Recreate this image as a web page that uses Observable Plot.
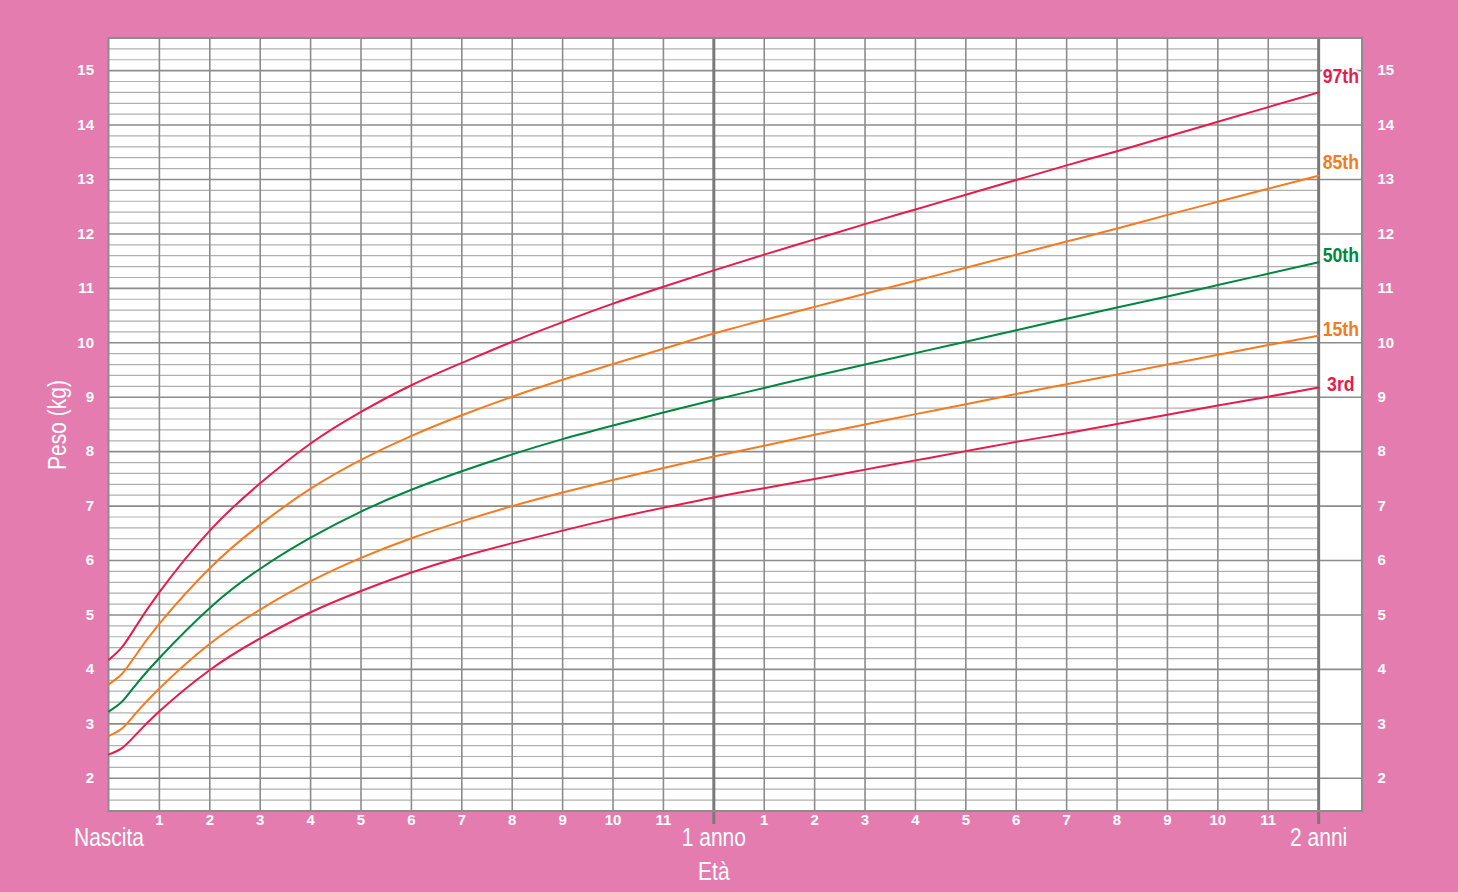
<!DOCTYPE html>
<html>
<head>
<meta charset="utf-8">
<script src="https://cdn.jsdelivr.net/npm/d3@7"></script>
<script src="https://cdn.jsdelivr.net/npm/@observablehq/plot@0.6"></script>
<style>
  html, body { margin: 0; padding: 0; background: #e47caf; }
  #chart { width: 1458px; height: 892px; overflow: hidden; }
</style>
</head>
<body>
<div id="chart"></div>
<script>
// Age in months
const ages = [0, 0.25, 0.5, 1, 2, 3, 4, 5, 6, 7, 8, 9, 10, 11, 12, 13, 14, 15, 16, 17, 18, 19, 20, 21, 22, 23, 24];
// Weight percentiles (kg)
const p3  = [2.44, 2.55, 2.77, 3.23, 3.99, 4.57, 5.05, 5.44, 5.78, 6.07, 6.32, 6.55, 6.77, 6.97, 7.16, 7.33, 7.50, 7.67, 7.84, 8.01, 8.18, 8.34, 8.51, 8.68, 8.85, 9.01, 9.18];
const p15 = [2.78, 2.91, 3.16, 3.65, 4.47, 5.10, 5.62, 6.05, 6.41, 6.72, 7.00, 7.25, 7.48, 7.70, 7.91, 8.11, 8.31, 8.50, 8.69, 8.87, 9.06, 9.24, 9.42, 9.60, 9.78, 9.96, 10.13];
const p50 = [3.23, 3.40, 3.68, 4.21, 5.13, 5.85, 6.42, 6.90, 7.30, 7.64, 7.95, 8.23, 8.48, 8.72, 8.95, 9.17, 9.39, 9.60, 9.81, 10.02, 10.23, 10.44, 10.65, 10.85, 11.06, 11.27, 11.48];
const p85 = [3.73, 3.91, 4.22, 4.84, 5.86, 6.66, 7.32, 7.85, 8.29, 8.67, 9.01, 9.32, 9.61, 9.89, 10.17, 10.42, 10.66, 10.90, 11.14, 11.38, 11.62, 11.86, 12.10, 12.35, 12.59, 12.83, 13.07];
const p97 = [4.18, 4.40, 4.74, 5.42, 6.55, 7.42, 8.15, 8.73, 9.22, 9.63, 10.02, 10.38, 10.72, 11.03, 11.33, 11.62, 11.90, 12.18, 12.45, 12.72, 12.99, 13.26, 13.52, 13.79, 14.06, 14.33, 14.60];

const seriesNames = ["3rd", "15th", "50th", "85th", "97th"];
const seriesValues = [p3, p15, p50, p85, p97];
const seriesColors = ["#e51c4c", "#f47b20", "#00873f", "#f47b20", "#e51c4c"];
const labelOffsets = [-3, -6, -7, -13, -16];

const monthLines = [1, 2, 3, 4, 5, 6, 7, 8, 9, 10, 11, 13, 14, 15, 16, 17, 18, 19, 20, 21, 22, 23];
const monthLabels = ["1","2","3","4","5","6","7","8","9","10","11","1","2","3","4","5","6","7","8","9","10","11"];
const yearLines = [12, 24];
const kgTicks = [2, 3, 4, 5, 6, 7, 8, 9, 10, 11, 12, 13, 14, 15];
const minorKg = d3.range(1.4, 15.5, 0.2).map(v => +v.toFixed(1)).filter(v => Math.abs(v - Math.round(v)) > 0.01);
const ageNames = [{x: 0, t: "Nascita"}, {x: 12, t: "1 anno"}, {x: 24, t: "2 anni"}];

const xMax = 24.87, yMin = 1.39, yMax = 15.59;

const rows = [];
seriesNames.forEach((name, i) => {
  ages.forEach((a, j) => rows.push({series: name, age: a, kg: seriesValues[i][j]}));
});

const font = "'Liberation Sans', Arial, sans-serif";

const marks = [
  Plot.rect([0], {x1: 0, x2: xMax, y1: yMin, y2: yMax, fill: "white"}),
  Plot.ruleY(minorKg, {x1: 0, x2: 24, stroke: "#b0b0b0", strokeWidth: 1.2}),
  Plot.ruleY(kgTicks, {x1: 0, x2: xMax, stroke: "#8c8c8c", strokeWidth: 1.6}),
  Plot.ruleX(monthLines, {y1: yMin, y2: yMax, stroke: "#8c8c8c", strokeWidth: 1.6}),
  Plot.ruleX(yearLines, {y1: yMin - 0.24, y2: yMax, stroke: "#7a7a7a", strokeWidth: 3}),
  Plot.rect([0], {x1: 0, x2: xMax, y1: yMin, y2: yMax, fill: "none", stroke: "#8c8c8c", strokeWidth: 2}),
  ...seriesNames.map((name, i) => Plot.line(rows.filter(r => r.series === name), {
    x: "age", y: "kg", stroke: seriesColors[i], strokeWidth: 2, curve: "natural"
  })),
  ...seriesNames.map((name, i) => Plot.text([{age: 24.44, kg: seriesValues[i][seriesValues[i].length - 1], t: name}], {
    x: "age", y: "kg", text: "t", fill: seriesColors[i], dy: labelOffsets[i],
    fontSize: 21, fontWeight: "bold", fontFamily: font, textAnchor: "middle",
    stroke: "white", strokeWidth: 4, paintOrder: "stroke", className: "condensed"
  })),
  Plot.text(kgTicks, {y: d => d, text: d => String(d), frameAnchor: "left", dx: -15, textAnchor: "end",
    fill: "white", fontSize: 15, fontWeight: "bold", fontFamily: font}),
  Plot.text(kgTicks, {y: d => d, text: d => String(d), frameAnchor: "right", dx: 15, textAnchor: "start",
    fill: "white", fontSize: 15, fontWeight: "bold", fontFamily: font}),
  Plot.text(monthLines, {x: d => d, text: (d, i) => monthLabels[i], frameAnchor: "bottom", dy: 13,
    fill: "white", fontSize: 15, fontWeight: "bold", fontFamily: font}),
  Plot.text(ageNames, {x: "x", text: "t", frameAnchor: "bottom", dy: 34,
    fill: "white", fontSize: 25, fontFamily: font, className: "condensed"}),
  Plot.text(["Età"], {x: 12, text: d => d, frameAnchor: "bottom", dy: 68,
    fill: "white", fontSize: 25, fontFamily: font, className: "condensed"}),
  Plot.text(["Peso (kg)"], {text: d => d, frameAnchor: "left", dx: -51, rotate: -90, textAnchor: "middle",
    fill: "white", fontSize: 25, fontFamily: font, className: "condensed"})
];

const chart = Plot.plot({
  width: 1458,
  height: 892,
  marginLeft: 108.5,
  marginRight: 96,
  marginTop: 38,
  marginBottom: 81,
  x: {domain: [0, xMax], axis: null},
  y: {domain: [yMin, yMax], axis: null},
  style: {background: "#e47caf", overflow: "visible"},
  marks
});
document.getElementById("chart").appendChild(chart);

// condense the word labels horizontally (the reference uses a condensed typeface)
d3.select(chart).selectAll(".condensed text").each(function() {
  const L = this.getComputedTextLength();
  if (L > 0) {
    this.setAttribute("textLength", (L * 0.84).toFixed(2));
    this.setAttribute("lengthAdjust", "spacingAndGlyphs");
  }
});
</script>
</body>
</html>
